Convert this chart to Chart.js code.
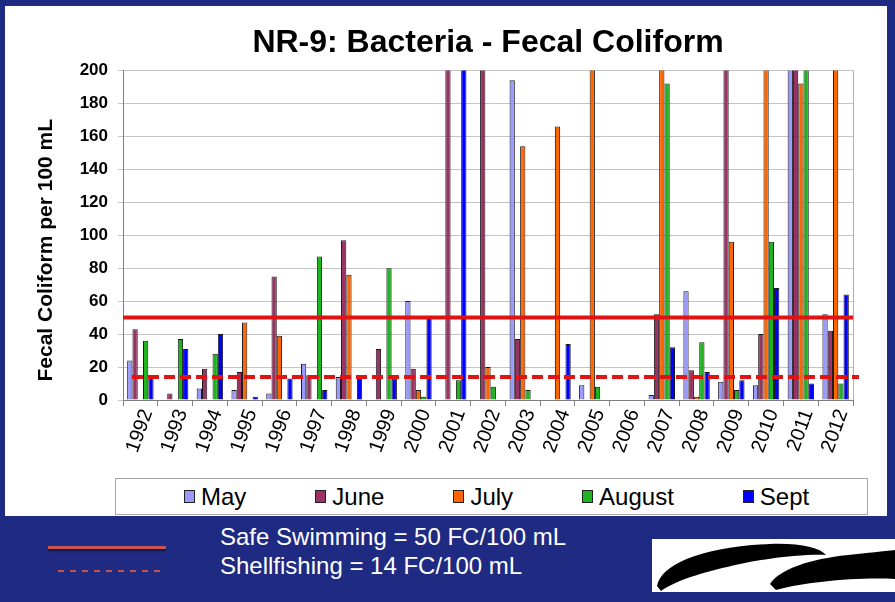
<!DOCTYPE html>
<html>
<head>
<meta charset="utf-8">
<title>NR-9: Bacteria - Fecal Coliform</title>
<script src="https://cdn.jsdelivr.net/npm/chart.js@4/dist/chart.umd.min.js"></script>
<style>
  html, body { margin: 0; padding: 0; }
  body {
    width: 895px; height: 602px; overflow: hidden; position: relative;
    background: #1F2A82;
    font-family: "Liberation Sans", Arial, Helvetica, sans-serif;
  }
  #panel { position: absolute; left: 5px; top: 6px; width: 882px; height: 510px; background: #fff; }
  #chart { position: absolute; left: 0; top: 0; }
  #legend {
    position: absolute; left: 110px; top: 472px; width: 753px; height: 37px;
    box-sizing: border-box; border: 1px solid #A6A6A6; background: #fff;
    display: flex; align-items: center; padding-left: 68px; gap: 69px;
  }
  .item { display: flex; align-items: center; font-size: 24px; color: #000; white-space: nowrap; }
  .swatch { width: 9px; height: 11px; border: 1px solid #222; margin-right: 6px; }
  #notes { position: absolute; left: 220px; top: 522px; color: #fff; font-size: 24px; line-height: 29px; }
  #solid { position: absolute; left: 48px; top: 546px; width: 118px; height: 3px; background: #C8534F;
           box-shadow: 0 2px 2px rgba(0,0,0,0.45); }
  #dashed { position: absolute; left: 58px; top: 570px; width: 108px; height: 2px;
            background: repeating-linear-gradient(to right, #C8534F 0 6px, transparent 6px 12px); }
  #logo { position: absolute; left: 652px; top: 539px; width: 243px; height: 53px; background: #fff; }
</style>
</head>
<body>
<div id="panel">
  <canvas id="chart" width="882" height="510"></canvas>
  <div id="legend"></div>
</div>
<div id="solid"></div>
<div id="dashed"></div>
<div id="notes">
  <div>Safe Swimming = 50 FC/100 mL</div>
  <div>Shellfishing = 14 FC/100 mL</div>
</div>
<div id="logo">
  <svg width="243" height="53" viewBox="0 0 243 53">
    <path d="M5 47 C9 26 48 8 118 5 C148 4 166 8 174 16 C158 15 120 18 88 25 C56 32 26 40 9 52 Z" fill="#000"/>
    <path d="M118 45 C128 30 158 20 196 16 C216 14 232 12 243 11 L243 40 C204 38 154 43 124 51 Z" fill="#000"/>
  </svg>
</div>

<script>
// Sampling years and monthly fecal coliform counts (FC per 100 mL).
const years = ['1992','1993','1994','1995','1996','1997','1998','1999','2000','2001','2002',
               '2003','2004','2005','2006','2007','2008','2009','2010','2011','2012'];
// Counts above the 200 axis limit run off the top of the plot.
const may    = [24, null,  7,    6,    4,   22,   14, null,  60, null, null, 194, null,   9, null,   3,  66,  11,   9, 250,  52];
const june   = [43,    4, 19,   17,   75,   15,   97,   31,  19,  250,  250,  37, null, null, null,  52,  18, 250,  40, 250,  42];
const july   = [null, null, null, 47,  39, null,   76, null,   6, null,   20, 154,  166,  250, null, 250,   2,  96, 250, 192, 250];
const august = [36,   37, 28, null, null,   87, null,   80,   2,   12,    8,   6, null,    8, null, 192,  35,   6,  96, 250,  10];
const sept   = [15,   31, 40,    2,   13,    6,   14,   13,  50,  250, null, null,   34, null, null,  32,  17,  12,  68,  10,  64];

const seriesNames  = ['May', 'June', 'July', 'August', 'Sept'];
const seriesValues = [may, june, july, august, sept];
const seriesColors = ['#9999FF', '#993366', '#FF6600', '#1DB41D', '#0000FF'];

// Water-quality standards (FC per 100 mL).
const SAFE_SWIMMING = 50;
const SHELLFISHING = 14;

const yTicks = [0, 20, 40, 60, 80, 100, 120, 140, 160, 180, 200];
const Y_TITLE = 'Fecal Coliform per 100 mL';

const FONT = '"Liberation Sans", Arial, Helvetica, sans-serif';

// Legend built from the series definitions.
const legendEl = document.getElementById('legend');
seriesNames.forEach((name, i) => {
  const item = document.createElement('div');
  item.className = 'item';
  const sw = document.createElement('span');
  sw.className = 'swatch';
  sw.style.background = seriesColors[i];
  item.appendChild(sw);
  item.appendChild(document.createTextNode(name));
  legendEl.appendChild(item);
});

// Draws the standard lines across the plot and the frame on its right side.
const standardsPlugin = {
  id: 'standards',
  afterDatasetsDraw(chart) {
    const {ctx, chartArea: a, scales: {y}} = chart;
    ctx.save();
    ctx.strokeStyle = '#B0B0B0';
    ctx.lineWidth = 1;
    ctx.beginPath();
    ctx.moveTo(a.right + 0.5, a.top);
    ctx.lineTo(a.right + 0.5, a.bottom);
    ctx.stroke();

    ctx.strokeStyle = '#E01212';
    ctx.lineWidth = 4;
    const ySwim = y.getPixelForValue(SAFE_SWIMMING);
    ctx.beginPath();
    ctx.moveTo(a.left, ySwim);
    ctx.lineTo(a.right, ySwim);
    ctx.stroke();

    const yShell = y.getPixelForValue(SHELLFISHING);
    ctx.setLineDash([11, 5]);
    ctx.beginPath();
    ctx.moveTo(a.left + 9, yShell);
    ctx.lineTo(a.right + 6, yShell);
    ctx.stroke();
    ctx.restore();
  }
};

// Vertical axis caption, set a little below the middle of the value axis.
const yTitlePlugin = {
  id: 'yTitle',
  afterDraw(chart) {
    const {ctx, chartArea: a} = chart;
    ctx.save();
    ctx.translate(41, (a.top + a.bottom) / 2 + 15);
    ctx.rotate(-Math.PI / 2);
    ctx.font = 'bold 21px ' + FONT;
    ctx.fillStyle = '#000';
    ctx.textAlign = 'center';
    ctx.textBaseline = 'middle';
    ctx.fillText(Y_TITLE, 0, 0);
    ctx.restore();
  }
};

new Chart(document.getElementById('chart'), {
  type: 'bar',
  data: {
    labels: years,
    datasets: seriesNames.map((name, i) => ({
      label: name,
      data: seriesValues[i],
      backgroundColor: seriesColors[i],
      borderColor: '#1A1A1A',
      borderWidth: 1,
      categoryPercentage: 0.76,
      barPercentage: 1.0,
      clip: 0
    }))
  },
  options: {
    responsive: false,
    animation: false,
    devicePixelRatio: 1,
    layout: { padding: { left: 0, right: 34, top: 0, bottom: 0 } },
    plugins: {
      legend: { display: false },
      tooltip: { enabled: false },
      title: {
        display: true,
        text: 'NR-9: Bacteria - Fecal Coliform',
        fullSize: false,
        color: '#000',
        font: { family: FONT, size: 32, weight: 'bold' },
        padding: { top: 18, bottom: 8 }
      }
    },
    scales: {
      x: {
        grid: { display: true, drawOnChartArea: false, drawTicks: true, tickLength: 6, color: '#808080', offset: true },
        border: { color: '#808080', width: 1 },
        ticks: {
          color: '#000', autoSkip: false, minRotation: 70, maxRotation: 70, padding: 0, labelOffset: 7,
          font: { family: FONT, size: 20 }
        },
        afterFit(scale) { scale.height = 116; }
      },
      y: {
        min: 0, max: 200,
        afterBuildTicks(scale) { scale.ticks = yTicks.map(v => ({ value: v })); },
        grid: { color: '#C4C4C4', lineWidth: 1, tickLength: 5 },
        border: { color: '#808080', width: 1 },
        ticks: { color: '#000', padding: 10, font: { family: FONT, size: 17, weight: 'bold' } },
        afterFit(scale) { scale.width = 118; }
      }
    }
  },
  plugins: [standardsPlugin, yTitlePlugin]
});
</script>
</body>
</html>
